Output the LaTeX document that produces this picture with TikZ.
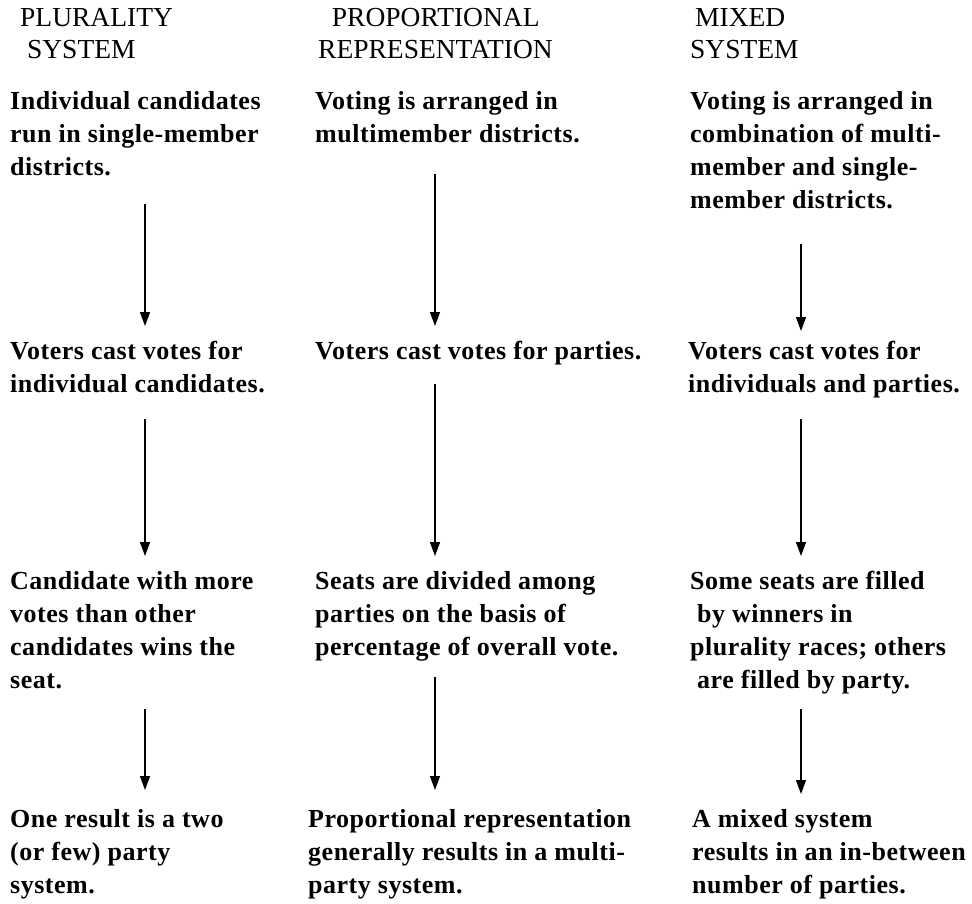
\documentclass[tikz,border=0pt]{standalone}
\usepackage{fontspec}
\setmainfont{Liberation Serif}
\newfontfamily\bodyfamily[LetterSpace=2]{Liberation Serif}
\usetikzlibrary{arrows.meta}

\newcommand\bodytext{\bodyfamily\fontsize{26}{33}\selectfont\bfseries}
\newcommand\headtext{\fontsize{27.5}{32.5}\selectfont}

\begin{document}
\begin{tikzpicture}[
    x=1pt, y=-1pt,
    head/.style={anchor=north west, align=left, inner sep=0pt, font=\headtext},
    body/.style={anchor=north west, align=left, inner sep=0pt, font=\bodytext},
    flow/.style={line width=1.3pt, -{Triangle[length=14pt, width=10pt]}},
  ]
  \useasboundingbox (0,0) rectangle (972,903);

  % --- column headings ------------------------------------------------------
  \node[head] (hp) at (20,8)  {PLURALITY\\\ SYSTEM};
  \node[head] (hr) at (318,8) {\ \ PROPORTIONAL\\REPRESENTATION};
  \node[head] (hm) at (690,8) {\hspace{5pt}MIXED\\SYSTEM};

  % --- plurality system ---------------------------------------------------
  \node[body] (p1) at (10,91)  {Individual candidates\\run in single-member\\districts.};
  \node[body] (p2) at (10,341) {Voters cast votes for\\individual candidates.};
  \node[body] (p3) at (10,571) {Candidate with more\\votes than other\\candidates wins the\\seat.};
  \node[body] (p4) at (10,809) {One result is a two\\(or few) party\\system.};

  % --- proportional representation ------------------------------------------
  \node[body] (r1) at (315,91)  {Voting is arranged in\\multimember districts.};
  \node[body] (r2) at (315,341) {Voters cast votes for parties.};
  \node[body] (r3) at (315,571) {Seats are divided among\\parties on the basis of\\percentage of overall vote.};
  \node[body] (r4) at (308,809) {Proportional representation\\generally results in a multi-\\party system.};

  % --- mixed system -------------------------------------------------------
  \node[body] (m1) at (690,91)  {Voting is arranged in\\combination of multi-\\member and single-\\member districts.};
  \node[body] (m2) at (688,341) {Voters cast votes for\\individuals and parties.};
  \node[body] (m3) at (690,571) {Some seats are filled\\\ by winners in\\plurality races; others\\\ are filled by party.};
  \node[body] (m4) at (692,809) {A mixed system\\results in an in-between\\number of parties.};

  % arrow columns
  \coordinate (ap) at (145,0);
  \coordinate (ar) at (435,0);
  \coordinate (am) at (801,0);

  \draw[flow, shorten <=28pt, shorten >=15pt] (p1.south -| ap) -- (p2.north -| ap);
  \draw[flow, shorten <=26pt, shorten >=15pt] (p2.south -| ap) -- (p3.north -| ap);
  \draw[flow, shorten <=20pt, shorten >=19pt] (p3.south -| ap) -- (p4.north -| ap);

  \draw[flow, shorten <=31pt, shorten >=15pt] (r1.south -| ar) -- (r2.north -| ar);
  \draw[flow, shorten <=19pt, shorten >=15pt] (r2.south -| ar) -- (r3.north -| ar);
  \draw[flow, shorten <=16pt, shorten >=19pt] (r3.south -| ar) -- (r4.north -| ar);

  \draw[flow, shorten <=35pt, shorten >=10pt] (m1.south -| am) -- (m2.north -| am);
  \draw[flow, shorten <=21pt, shorten >=15pt] (m2.south -| am) -- (m3.north -| am);
  \draw[flow, shorten <=15pt, shorten >=15pt] (m3.south -| am) -- (m4.north -| am);

\end{tikzpicture}
\end{document}
